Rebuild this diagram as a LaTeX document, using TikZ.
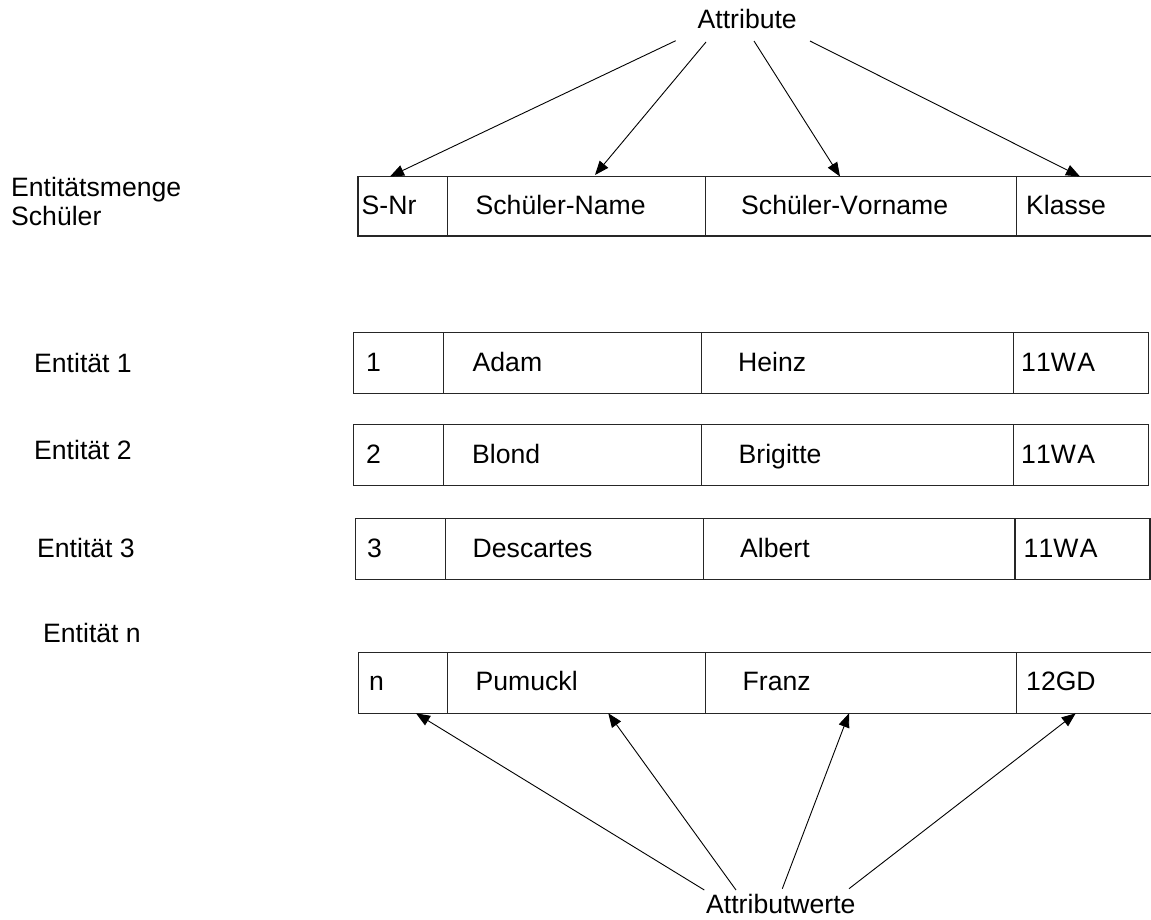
\documentclass[tikz,border=0pt]{standalone}
\usepackage{fontspec}
\setmainfont{Liberation Sans}[Kerning=Off]
\usetikzlibrary{arrows.meta}

% draws one table row: name, top, bottom, then the five column edges
\newcommand\entrow[8]{%
  \coordinate (#1-nw) at (#4,#2);
  \coordinate (#1-se) at (#8,#3);
  \draw[box] (#1-nw) rectangle (#1-se);
  \draw[box] (#5,#2) -- (#5,#3) (#6,#2) -- (#6,#3) (#7,#2) -- (#7,#3);
}

\begin{document}
\begin{tikzpicture}[x=1pt,y=-1pt,
  box/.style={draw=black!85,line width=1.1pt},
  txt/.style={anchor=base west,inner sep=0pt,font=\fontsize{26.6}{29}\selectfont},
  arr/.style={draw=black,line width=0.9pt,-{Triangle[length=14pt,width=11pt]}}]
  \useasboundingbox (0,0) rectangle (1151,919);

  % row frames
  \entrow{hdr}{176.5}{236}{358}{447.7}{705.7}{1016.7}{1160}
  \entrow{r1}{332.7}{393.3}{353.3}{443.3}{701.3}{1013.3}{1148.3}
  \entrow{r2}{424.3}{485.3}{353.3}{443.3}{701.3}{1013.3}{1148.3}
  \entrow{r3}{518.3}{579.3}{355.3}{445.3}{703.3}{1015}{1150}
  \entrow{rn}{652.3}{713.3}{358.3}{447.7}{705.7}{1016.7}{1160}

  % header texts
  \node[txt] (h1) at (361.5,214) {S-Nr};
  \node[txt] (h2) at (475.5,214) {Schüler-Name};
  \node[txt] (h3) at (741,214) {Schüler-Vorname};
  \node[txt] (h4) at (1026,214) {Klasse};

  % entity rows
  \node[txt] (r1a) at (366,371) {1};
  \node[txt] (r1b) at (472.5,371) {Adam};
  \node[txt] (r1c) at (738,371) {Heinz};
  \node[txt] (r1d) at (1021,371) {11W\kern1.5pt A};

  \node[txt] (r2a) at (366,463.5) {2};
  \node[txt] (r2b) at (472,463.5) {Blond};
  \node[txt] (r2c) at (738.5,463.5) {Brigitte};
  \node[txt] (r2d) at (1021,463.5) {11W\kern1.5pt A};

  \node[txt] (r3a) at (367,557) {3};
  \node[txt] (r3b) at (472.5,557) {Descartes};
  \node[txt] (r3c) at (740,557) {Albert};
  \node[txt] (r3d) at (1023.5,557) {11W\kern1.5pt A};

  \node[txt] (rna) at (369,690) {n};
  \node[txt] (rnb) at (475.5,690) {Pumuckl};
  \node[txt] (rnc) at (742.5,690) {Franz};
  \node[txt] (rnd) at (1026,690) {12GD};

  % side captions
  \node[txt] (set1) at (11,196) {Entitätsmenge};
  \node[txt] (set2) at (11,225) {Schüler};
  \node[txt] (e1) at (34,372.3) {Entität 1};
  \node[txt] (e2) at (34,459) {Entität 2};
  \node[txt] (e3) at (37,557) {Entität 3};
  \node[txt] (en) at (43,642) {Entität n};

  % attribute names
  \node[txt] (attr) at (697.5,28.3) {Attribute};
  \coordinate (as1) at (675.7,40.7);
  \coordinate (as2) at (706,42);
  \coordinate (as3) at (754,41);
  \coordinate (as4) at (810,41);
  \coordinate (at1) at (390,176.5);
  \coordinate (at2) at (595,175);
  \coordinate (at3) at (840,176.5);
  \coordinate (at4) at (1080,176.5);
  \draw[arr] (as1) -- (at1);
  \draw[arr] (as2) -- (at2);
  \draw[arr] (as3) -- (at3);
  \draw[arr] (as4) -- (at4);

  % attribute values
  \node[txt] (vals) at (706,913.3) {Attributwerte};
  \coordinate (vs1) at (704.3,890);
  \coordinate (vs2) at (736,890);
  \coordinate (vs3) at (782.3,888.7);
  \coordinate (vs4) at (849,888.7);
  \coordinate (vt1) at (416,713.3);
  \coordinate (vt2) at (608.3,713.3);
  \coordinate (vt3) at (849,713.3);
  \coordinate (vt4) at (1075.7,713.3);
  \draw[arr] (vs1) -- (vt1);
  \draw[arr] (vs2) -- (vt2);
  \draw[arr] (vs3) -- (vt3);
  \draw[arr] (vs4) -- (vt4);
\end{tikzpicture}
\end{document}
